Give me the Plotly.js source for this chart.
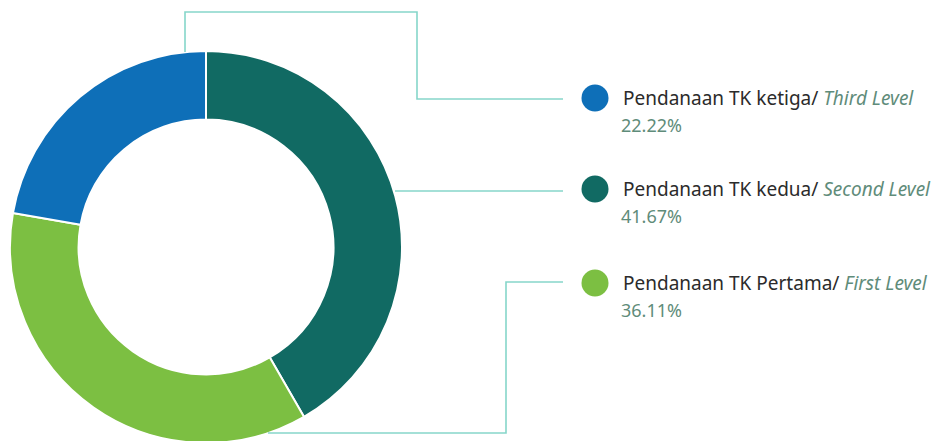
<!DOCTYPE html>
<html>
<head>
<meta charset="utf-8">
<script src="https://cdn.plot.ly/plotly-3.0.1.min.js"></script>
<style>
html,body{margin:0;padding:0;overflow:hidden;background:#fff;width:939px;height:441px;}
#chart{width:939px;height:447px;}
</style>
</head>
<body>
<div id="chart"></div>
<script>
// Data
const labelsId = ["Pendanaan TK kedua/", "Pendanaan TK Pertama/", "Pendanaan TK ketiga/"];
const labelsEn = ["Second Level", "First Level", "Third Level"];
const values = [41.67, 36.11, 22.22];
const colors = ["#116a63", "#7cbf42", "#0e6fb8"];

const W = 939, H = 447;
const px = x => x / W;
const py = y => 1 - y / H;

const lineColor = "#86d6ca";
function path(pts) {
  return pts.map((p, i) => (i ? "L" : "M") + px(p[0]).toFixed(5) + "," + py(p[1]).toFixed(5)).join(" ");
}

// legend rows (order displayed: third, second, first)
const rows = [
  {idx: 2, y: 98},
  {idx: 0, y: 189},
  {idx: 1, y: 283}
];

const shapes = [];
const annotations = [];

shapes.push({type: "path", xref: "paper", yref: "paper", path: path([[185,52],[185,12],[417,12],[417,99],[563,99]]), line: {color: lineColor, width: 1.6}});
shapes.push({type: "path", xref: "paper", yref: "paper", path: path([[395,191],[563,191]]), line: {color: lineColor, width: 1.6}});
shapes.push({type: "path", xref: "paper", yref: "paper", path: path([[268,433],[506,433],[506,282],[563,282]]), line: {color: lineColor, width: 1.6}});

rows.forEach(r => {
  const i = r.idx;
  shapes.push({type: "circle", xref: "paper", yref: "paper", xsizemode: "pixel", ysizemode: "pixel",
    xanchor: px(595), yanchor: py(r.y), x0: -13.5, x1: 13.5, y0: -13.5, y1: 13.5,
    fillcolor: colors[i], line: {width: 0}});
  annotations.push({xref: "paper", yref: "paper", x: px(621), y: py(r.y), xanchor: "left", yanchor: "middle",
    showarrow: false, align: "left",
    text: labelsId[i] + " <i><span style='color:#5f8c7a'>" + labelsEn[i] + "</span></i>",
    font: {family: "Noto Sans", size: 19, color: "#2b2b2b"}});
  annotations.push({xref: "paper", yref: "paper", x: px(619), y: py(r.y + 27), xanchor: "left", yanchor: "middle",
    showarrow: false, align: "left",
    text: values[i].toFixed(2) + "%",
    font: {family: "Noto Sans", size: 18, color: "#5f8c7a"}});
});

const data = [{
  type: "pie",
  labels: labelsEn,
  values: values,
  hole: 0.65,
  sort: false,
  direction: "clockwise",
  rotation: 0,
  textinfo: "none",
  hoverinfo: "label+percent",
  marker: {colors: colors, line: {color: "#ffffff", width: 2}},
  domain: {x: [px(10), px(402)], y: [py(443), py(51)]},
  showlegend: false
}];

const layout = {
  width: W, height: H,
  margin: {l: 0, r: 0, t: 0, b: 0},
  paper_bgcolor: "#ffffff",
  showlegend: false,
  shapes: shapes,
  annotations: annotations
};

Plotly.newPlot("chart", data, layout, {displayModeBar: false, staticPlot: true});
</script>
</body>
</html>
